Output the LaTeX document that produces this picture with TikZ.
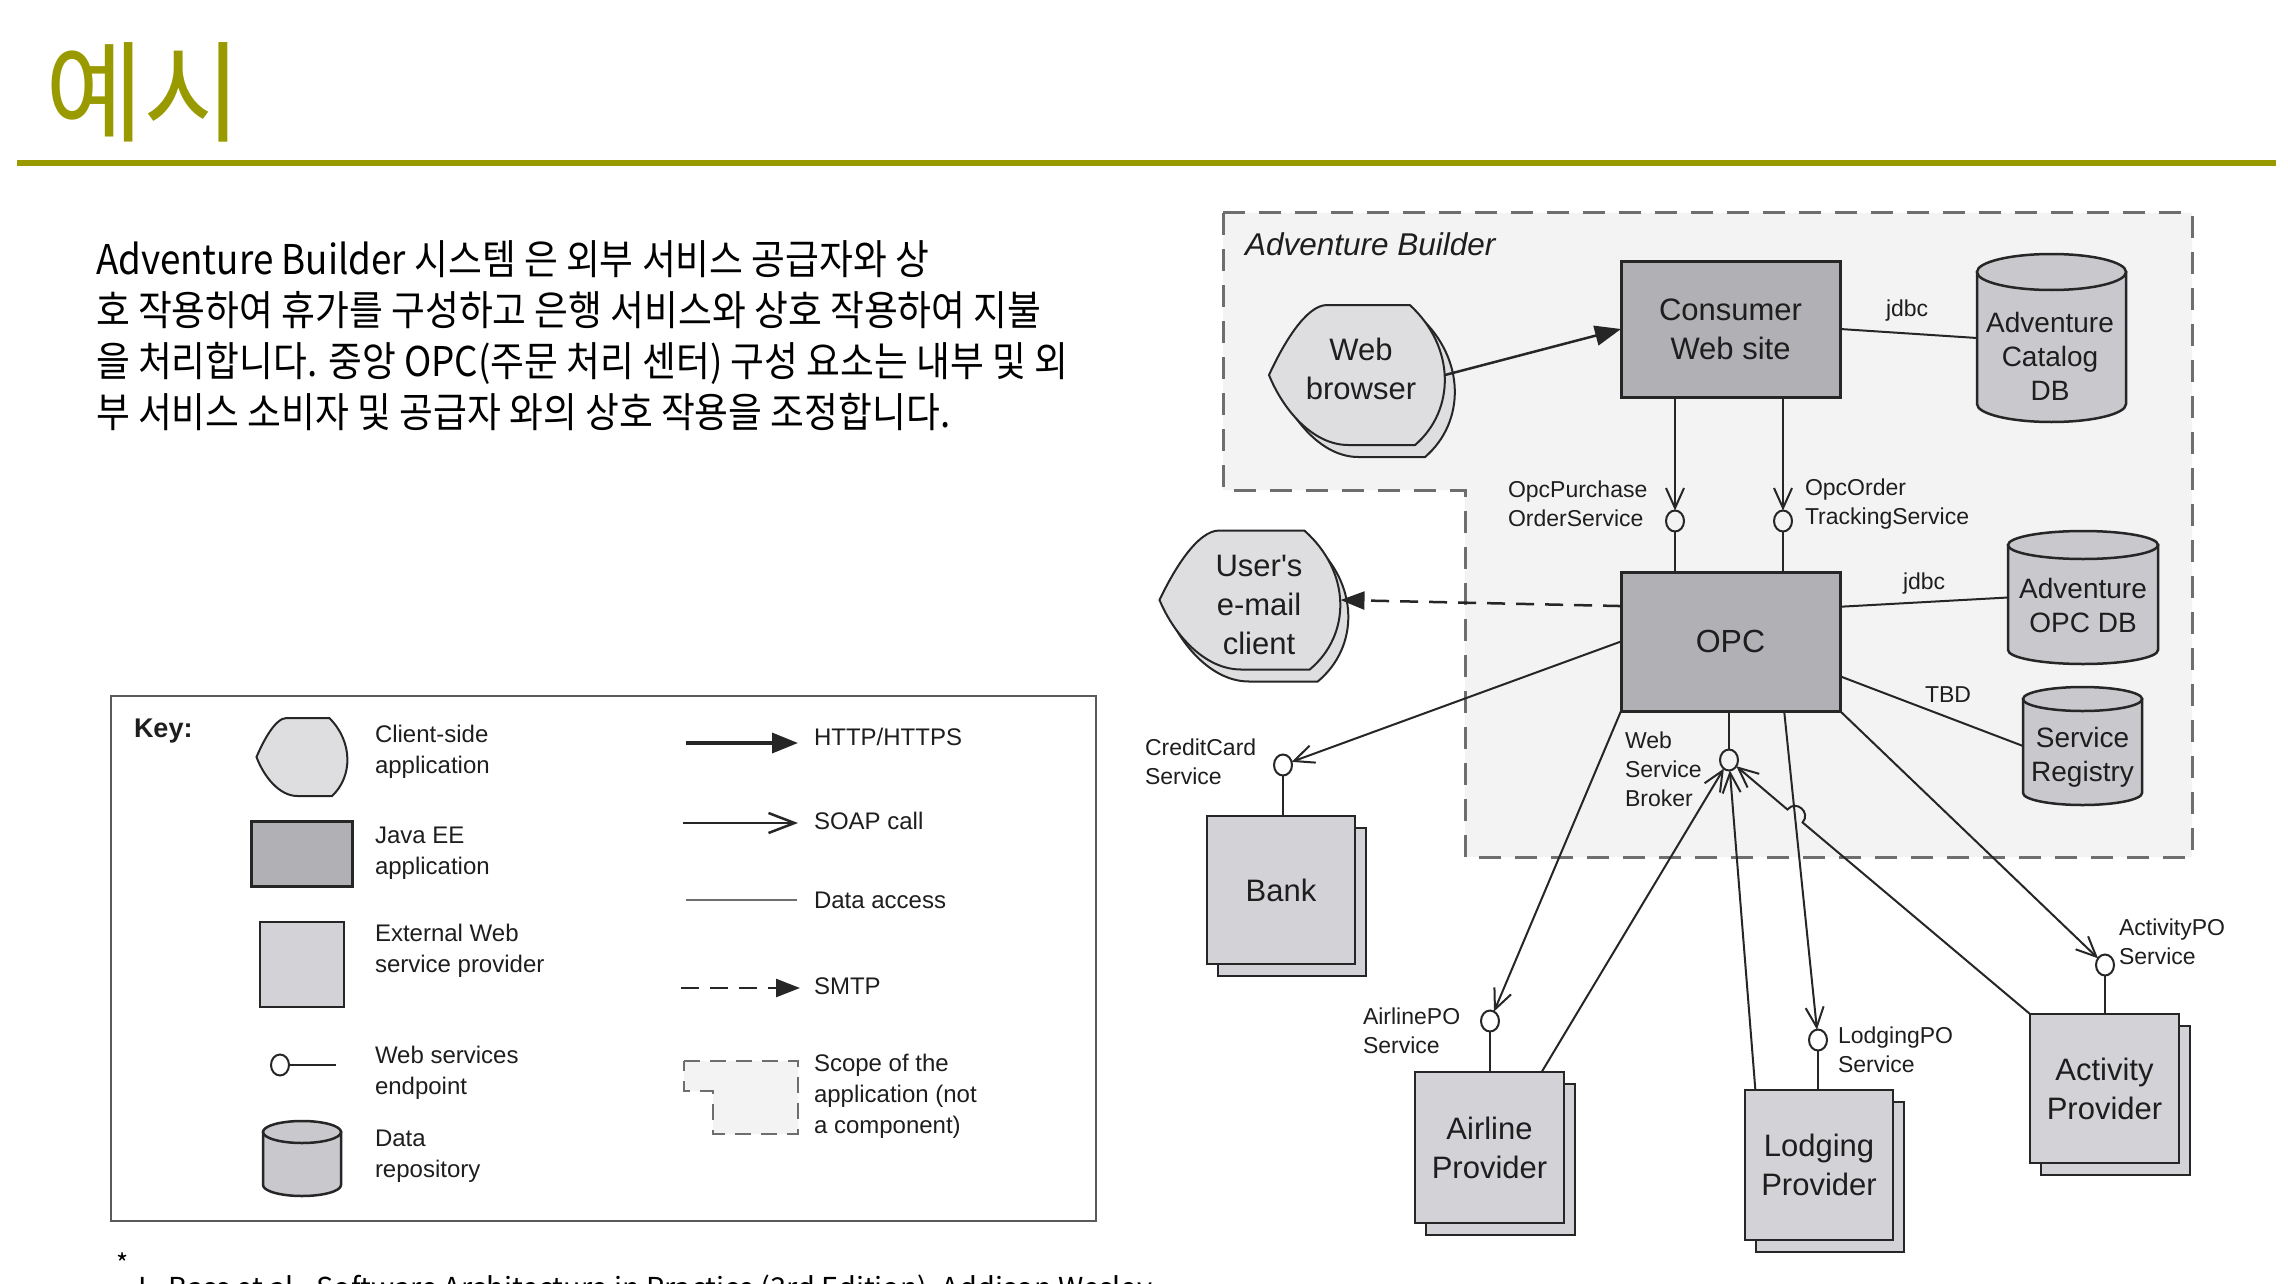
\documentclass[tikz,border=0pt]{standalone}
\usepackage{fontspec}
\usetikzlibrary{arrows.meta,shapes.geometric,calc}
\newfontfamily\krfont{Noto Sans CJK KR}[FakeStretch=0.897]
\newfontfamily\krtitle{Noto Sans CJK KR}[FakeStretch=0.97]
\newfontfamily\krplain{Noto Sans CJK KR}
\newfontfamily\dfont{Liberation Sans}
\definecolor{titleolive}{RGB}{153,153,0}
\definecolor{linec}{RGB}{38,38,38}
\definecolor{txt}{RGB}{30,30,30}
\definecolor{javafill}{RGB}{176,176,181}
\definecolor{extfill}{RGB}{211,211,215}
\definecolor{clientfill}{RGB}{222,222,224}
\definecolor{cylfill}{RGB}{201,201,205}
\definecolor{scopefill}{RGB}{243,243,243}
\definecolor{scopeline}{RGB}{110,110,110}
\definecolor{keyline}{RGB}{90,90,90}
\definecolor{dataline}{RGB}{110,110,110}
\newcommand{\clientpath}[4]{%
 \filldraw[clientst] ({#1-0.5*#3},{#2}) .. controls ({#1-0.42*#3},{#2-0.22*#4}) and ({#1-0.29*#3},{#2-0.5*#4}) .. ({#1-0.17*#3},{#2-0.5*#4}) -- ({#1+0.30*#3},{#2-0.5*#4}) .. controls ({#1+0.56*#3},{#2-0.2*#4}) and ({#1+0.56*#3},{#2+0.25*#4}) .. ({#1+0.33*#3},{#2+0.5*#4}) -- ({#1-0.05*#3},{#2+0.5*#4}) .. controls ({#1-0.25*#3},{#2+0.5*#4}) and ({#1-0.42*#3},{#2+0.25*#4}) .. ({#1-0.5*#3},{#2}) -- cycle;}
\newcommand{\cylshape}[5]{%
 \filldraw[cylst] (#1,{#2+#5}) -- (#1,{#4-#5}) arc[start angle=180, end angle=0, x radius={(#3-#1)/2}, y radius=#5] -- (#3,{#2+#5}) -- cycle;
 \filldraw[cylst] ({(#1+#3)/2},{#2+#5}) ellipse [x radius={(#3-#1)/2}, y radius=#5];}
\newcommand{\extbox}[6]{%
 \filldraw[ext] ({#2-#4/2+11},{#3-#5/2+12}) rectangle ({#2+#4/2+11},{#3+#5/2+12});
 \node[ext, big, minimum width=#4pt, minimum height=#5pt] (#1) at (#2,#3) {#6};}
\begin{document}
\begin{tikzpicture}[x=1pt,y=-1pt,
 every node/.style={inner sep=0pt, outer sep=0pt},
 lab/.style={font=\dfont\fontsize{23}{29}\selectfont, text=txt, align=left, anchor=west},
 big/.style={font=\dfont\fontsize{31}{39}\selectfont, text=txt, align=center},
 cyltext/.style={font=\dfont\fontsize{28}{34}\selectfont, text=txt, align=center},
 keytext/.style={font=\dfont\fontsize{24}{31}\selectfont, text=txt, align=left, anchor=west},
 body/.style={font=\krfont\fontsize{41}{51}\selectfont, anchor=base west, text=black},
 javaee/.style={draw=linec, line width=3pt, fill=javafill},
 ext/.style={draw=linec, line width=2pt, fill=extfill},
 epst/.style={ellipse, draw=linec, line width=2pt, minimum width=18pt, minimum height=21pt},
 http/.style={draw=linec, line width=2.5pt, -{Triangle[length=26pt,width=20pt]}},
 soap/.style={draw=linec, line width=2pt, -{Straight Barb[length=20pt,width=18pt]}},
 data/.style={draw=linec, line width=2pt},
 smtp/.style={draw=linec, line width=2.5pt, dash pattern=on 18pt off 11pt, -{Triangle[length=24pt,width=18pt]}},
 scopest/.style={draw=scopeline, line width=3pt, dash pattern=on 22pt off 14pt, fill=scopefill},
 clientst/.style={draw=linec, line width=2pt, fill=clientfill},
 cylst/.style={draw=linec, line width=2.5pt, fill=cylfill}]
\useasboundingbox (0,0) rectangle (2288,1284);
\fill[white] (0,0) rectangle (2288,1284);
% title
\node[anchor=base west, text=titleolive, font=\krtitle\fontsize{110}{110}\selectfont] (title) at (45,134) {예시};
\draw[titleolive, line width=6pt] (17,163) -- (2276,163);
% body
\node[body] (b1) at (96,274) {Adventure Builder 시스템 은 외부 서비스 공급자와 상};
\node[body] (b2) at (96,325) {호 작용하여 휴가를 구성하고 은행 서비스와 상호 작용하여 지불};
\node[body] (b3) at (96,376) {을 처리합니다. 중앙 OPC(주문 처리 센터) 구성 요소는 내부 및 외};
\node[body] (b4) at (96,427) {부 서비스 소비자 및 공급자 와의 상호 작용을 조정합니다.};
% key box
\draw[keyline, line width=2.5pt] (111,696) rectangle (1096,1221);
\node[font=\dfont\bfseries\fontsize{27}{31}\selectfont, text=txt, anchor=west] (key) at (134,731) {Key:};
\clientpath{302}{757}{91}{78}
\node[keytext] (k1) at (375,752) {Client-side\\application};
\node[javaee, minimum width=101pt, minimum height=65pt] (kjee) at (301.5,853.5) {};
\node[keytext] (k2) at (375,853) {Java EE\\application};
\node[ext, minimum width=84pt, minimum height=85pt] (kext) at (302,964.5) {};
\node[keytext] (k3) at (375,951) {External Web\\service provider};
\node[epst] (kep) at (280,1065) {};
\coordinate (kepe) at (336,1065);
\draw[data] (kep) -- (kepe);
\node[keytext] (k4) at (375,1073) {Web services\\endpoint};
\cylshape{263}{1121}{341}{1196}{11}
\node[keytext] (k5) at (375,1156) {Data\\repository};
\coordinate (kha) at (686,743); \coordinate (khb) at (798,743);
\draw[http, line width=3.5pt] (kha) -- (khb);
\node[keytext] (k6) at (814,737) {HTTP/HTTPS};
\coordinate (ksa) at (683,823); \coordinate (ksb) at (798,823);
\draw[soap, line width=2.5pt, -{Straight Barb[length=26pt,width=20pt]}] (ksa) -- (ksb);
\node[keytext] (k7) at (814,821) {SOAP call};
\coordinate (kda) at (686,900); \coordinate (kdb) at (797,900);
\draw[dataline, line width=1.5pt] (kda) -- (kdb);
\node[keytext] (k8) at (814,900) {Data access};
\coordinate (kma) at (681,988); \coordinate (kmb) at (800,988);
\draw[smtp] (kma) -- (kmb);
\node[keytext] (k9) at (814,986) {SMTP};
\filldraw[scopest, line width=2.5pt, dash pattern=on 16pt off 10pt] (684,1061) -- (798,1061) -- (798,1134) -- (713,1134) -- (713,1091) -- (684,1091) -- cycle;
\node[keytext] (k10) at (814,1096) {Scope of the\\application (not\\a component)};
% scope of Adventure Builder
\filldraw[scopest] (1223,213) -- (2192,213) -- (2192,857) -- (1465,857) -- (1465,490) -- (1223,490) -- cycle;
\node[font=\dfont\itshape\fontsize{31.5}{36}\selectfont, text=txt, anchor=west] (abl) at (1245,244) {Adventure Builder};
% client shapes
\clientpath{1367}{387}{176}{140}
\clientpath{1357}{375}{176}{140}
\node[minimum width=176pt, minimum height=140pt] (wb) at (1357,375) {};
\node[big] (wbt) at (1361,369) {Web\\browser};
\clientpath{1258}{612}{181}{139}
\clientpath{1250}{600}{181}{139}
\node[minimum width=181pt, minimum height=139pt] (em) at (1250,600) {};
\node[big] (emt) at (1259,605) {User's\\e-mail\\client};
% Java EE
\node[javaee, big, minimum width=219pt, minimum height=136pt] (cws) at (1730.5,329) {Consumer\\Web site};
\node[javaee, font=\dfont\fontsize{32}{38}\selectfont, text=txt, minimum width=219pt, minimum height=139pt] (opc) at (1730.5,641.5) {OPC};
% cylinders
\cylshape{1977}{254}{2126}{422}{18}
\node[minimum width=149pt, minimum height=168pt] (catdb) at (2051.5,338) {};
\node[cyltext] (catdbt) at (2050,356) {Adventure\\Catalog\\DB};
\cylshape{2008}{531}{2158}{664}{14}
\node[minimum width=150pt, minimum height=133pt] (opcdb) at (2083,597.5) {};
\node[cyltext] (opcdbt) at (2083,605) {Adventure\\OPC DB};
\cylshape{2023}{687}{2142}{805}{12}
\node[minimum width=119pt, minimum height=118pt] (reg) at (2082.5,746) {};
\node[cyltext] (regt) at (2082.5,757) {Service\\Registry};
% external providers
\extbox{bank}{1281}{890}{148}{148}{Bank}
\extbox{air}{1489.5}{1147.5}{149}{151}{Airline\\Provider}
\extbox{lod}{1819}{1165}{148}{150}{Lodging\\Provider}
\extbox{act}{2104.5}{1088.5}{149}{149}{Activity\\Provider}
% endpoints
\node[epst] (ep1) at (1675,521) {};
\node[epst] (ep2) at (1783,521) {};
\node[epst] (ccep) at (1283,765) {};
\node[epst] (wsb) at (1729,760) {};
\node[epst] (airep) at (1490,1021) {};
\node[epst] (lodep) at (1818,1040) {};
\node[epst] (actep) at (2105,965) {};
% labels
\node[lab] (ljdbc1) at (1886,311) {jdbc};
\node[lab] (ljdbc2) at (1903,584) {jdbc};
\node[lab] (ltbd) at (1925,695) {TBD};
\node[lab] (lopcp) at (1508,504) {OpcPurchase\\OrderService};
\node[lab] (lopco) at (1805,504) {OpcOrder\\TrackingService};
\node[lab] (lcc) at (1145,762) {CreditCard\\Service};
\node[lab] (lwsb) at (1625,769) {Web\\Service\\Broker};
\node[lab] (lair) at (1363,1031) {AirlinePO\\Service};
\node[lab] (llod) at (1838,1050) {LodgingPO\\Service};
\node[lab] (lact) at (2119,942) {ActivityPO\\Service};
% connectors
\draw[http] (wb.east) -- (cws.west);
\draw[data] (cws.east) -- (catdb.west);
\draw[soap] (cws.south -| ep1) -- (ep1);
\draw[data] (ep1) -- (ep1 |- opc.north);
\draw[soap] (cws.south -| ep2) -- (ep2);
\draw[data] (ep2) -- (ep2 |- opc.north);
\draw[data] ($(opc.north east)!0.25!(opc.south east)$) -- (opcdb.west);
\draw[data] ($(opc.north east)!0.75!(opc.south east)$) -- (reg.west);
\draw[smtp] ($(opc.north west)!0.245!(opc.south west)$) -- (em.east);
\draw[soap] ($(opc.north west)!0.5!(opc.south west)$) -- (ccep);
\draw[data] (ccep) -- (ccep |- bank.north);
\draw[soap] (opc.south west) -- (airep);
\draw[data] (airep) -- (airep |- air.north);
\draw[data] (opc.south -| wsb) -- (wsb);
\draw[soap] ($(air.north west)!0.85!(air.north east)$) -- (wsb);
\draw[soap] ($(lod.north west)!0.07!(lod.north east)$) -- (wsb);
\draw[soap] ($(opc.south west)!0.745!(opc.south east)$) -- (lodep);
\draw[data] (lodep) -- (lodep |- lod.north);
\coordinate (hopa) at (1802.6,822.5);
\coordinate (hopb) at (1787.4,809.5);
\draw[soap] (act.north west) -- (hopa) .. controls (1811.2,812.3) and (1796,799.3) .. (hopb) -- (wsb);
\draw[soap] (opc.south east) -- (actep);
\draw[data] (actep) -- (actep |- act.north);
% footnote
\node[font=\krplain\fontsize{26}{30}\selectfont, anchor=base west] (star) at (116,1273) {*};
\node[font=\krplain\fontsize{28.8}{32}\selectfont, anchor=base west] (cite) at (138,1298) {L. Bass et al., Software Architecture in Practice (3rd Edition), Addison Wesley};
\end{tikzpicture}
\end{document}
